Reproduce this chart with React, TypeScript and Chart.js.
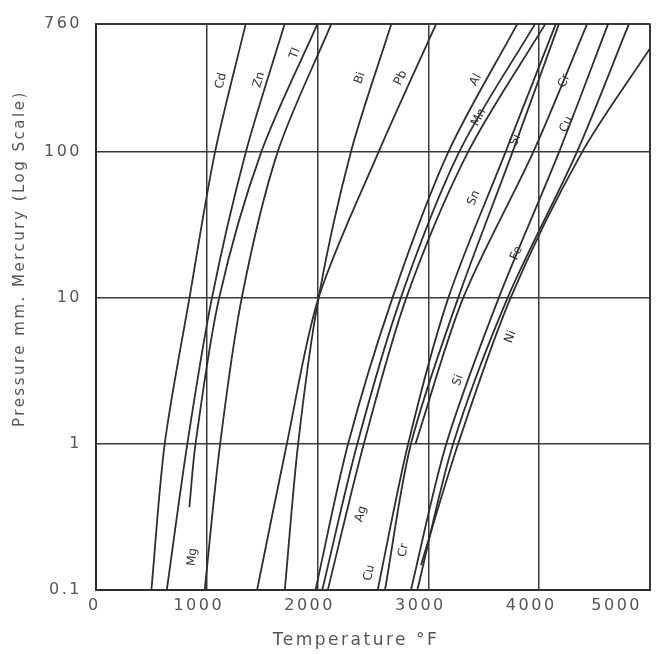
import React, { useEffect, useRef } from "react";
import { Chart, registerables } from "chart.js";

Chart.register(...registerables);

// ---- axis ticks ----
const xTicks = [0, 1000, 2000, 3000, 4000, 5000];
const yTicks = [0.1, 1, 10, 100, 760];

// ---- curve data: pressures (mm Hg) and temperatures (°F) ----
const stdP = [0.1, 1, 10, 100, 760];

const cdT = [500, 620, 843, 1074, 1352];
const znT = [639, 824, 1046, 1352, 1704];
const tlP = [0.37, 1, 10, 100, 760];
const tlT = [843, 898, 1111, 1491, 2000];
const mgT = [981, 1120, 1315, 1639, 2125];
const biT = [1704, 1824, 2008, 2300, 2667];
const pbT = [1454, 1722, 2008, 2550, 3071];
const agT = [1981, 2275, 2675, 3179, 3804];
const alT = [2042, 2358, 2750, 3277, 3964];
const mnT = [2092, 2417, 2800, 3357, 4057];
const cuT = [2542, 2817, 3179, 3696, 4151];
const crT = [2608, 2842, 3268, 3759, 4179];
const snP = [1, 10, 100, 760];
const snT = [2883, 3313, 3946, 4434];
const feT = [2842, 3161, 3634, 4179, 4623];
const niT = [2900, 3223, 3714, 4340, 4811];
const siP = [0.148, 1, 10, 100, 514];
const siT = [2933, 3268, 3741, 4387, 5000];

const curveNames = ["Cd", "Zn", "Tl", "Mg", "Bi", "Pb", "Ag", "Al", "Mn", "Cu", "Cr", "Sn", "Fe", "Ni", "Si"];
const curveP = [stdP, stdP, tlP, stdP, stdP, stdP, stdP, stdP, stdP, stdP, stdP, snP, stdP, stdP, siP];
const curveT = [cdT, znT, tlT, mgT, biT, pbT, agT, alT, mnT, cuT, crT, snT, feT, niT, siT];

// ---- curve labels (text, temperature °F, pressure mm Hg, rotation deg) ----
const labelText = ["Cd", "Zn", "Tl", "Bi", "Pb", "Al", "Mn", "Sn", "Si", "Cr", "Cu", "Fe", "Ni", "Si", "Ag", "Cu", "Cr", "Mg"];
const labelT = [1130, 1472, 1796, 2383, 2750, 3429, 3455, 3411, 3786, 4226, 4245, 3795, 3741, 3268, 2392, 2467, 2775, 870];
const labelP = [308, 313, 475, 322, 322, 313, 173, 48.5, 121, 308, 155, 20.3, 5.43, 2.74, 0.332, 0.131, 0.187, 0.168];
const labelAngle = [-76, -74, -68, -71, -64, -61, -61, -66, -68, -66, -66, -67, -69, -70, -73, -78, -78, -85];

const xTitle = "Temperature °F";
const yTitle = "Pressure mm. Mercury (Log Scale)";

const INK = "#2e2e2e";
const TEXT = "#555";

const annotatePlugin = {
  id: "annotate",
  beforeDraw(chart: any) {
    (chart.ctx as any).letterSpacing = "2.5px";
  },
  afterDatasetsDraw(chart: any) {
    const { ctx, scales, chartArea } = chart;
    const xs = scales.x;
    const ys = scales.y;
    ctx.save();
    (ctx as any).letterSpacing = "0px";
    ctx.fillStyle = "#333";
    ctx.font = '12px "DejaVu Sans"';
    ctx.textAlign = "center";
    ctx.textBaseline = "middle";
    for (let i = 0; i < labelText.length; i++) {
      const px = xs.getPixelForValue(labelT[i]);
      const py = ys.getPixelForValue(labelP[i]);
      ctx.save();
      ctx.translate(px, py);
      ctx.rotate((labelAngle[i] * Math.PI) / 180);
      ctx.fillText(labelText[i], 0, 0);
      ctx.restore();
    }
    ctx.restore();

    // axis titles
    ctx.save();
    (ctx as any).letterSpacing = "2.5px";
    ctx.fillStyle = TEXT;
    ctx.textAlign = "center";
    ctx.textBaseline = "middle";
    ctx.font = '17px "DejaVu Sans"';
    ctx.fillText(xTitle, (chartArea.left + chartArea.right) / 2 - 17, chart.height - 13);
    ctx.font = '15px "DejaVu Sans"';
    ctx.translate(20, chartArea.top + 235);
    ctx.rotate(-Math.PI / 2);
    ctx.fillText(yTitle, 0, 0);
    ctx.restore();
  },
};

export default function App() {
  const canvasRef = useRef<HTMLCanvasElement | null>(null);

  useEffect(() => {
    const canvas = canvasRef.current;
    if (!canvas) return;

    const datasets = curveNames.map((name, i) => ({
      label: name,
      data: curveP[i].map((p, j) => ({ x: curveT[i][j], y: p })),
      showLine: true,
      borderColor: INK,
      borderWidth: 1.8,
      pointRadius: 0,
      tension: 0.3,
      fill: false,
    }));

    const chart = new Chart(canvas, {
      type: "scatter",
      data: { datasets },
      plugins: [annotatePlugin],
      options: {
        animation: false,
        responsive: true,
        maintainAspectRatio: false,
        layout: { padding: { top: 20, right: 12, left: 0, bottom: 0 } },
        plugins: { legend: { display: false }, tooltip: { enabled: false }, title: { display: false } },
        scales: {
          x: {
            type: "linear",
            min: 0,
            max: 5000,
            afterBuildTicks: (s: any) => {
              s.ticks = xTicks.map((v) => ({ value: v }));
            },
            afterFit: (s: any) => {
              s.height = 64;
            },
            ticks: {
              align: "inner",
              labelOffset: -8,
              padding: 6,
              color: TEXT,
              font: { size: 16, family: "DejaVu Sans" },
              callback: (v: any) => String(v),
              maxRotation: 0,
              autoSkip: false,
            },
            grid: {
              color: "#3a3a3a",
              lineWidth: (c: any) => (c.tick && (c.tick.value === 5000 || c.tick.value === 0) ? 2 : 1.5),
              drawTicks: false,
            },
            border: { color: INK, width: 2 },
          },
          y: {
            type: "logarithmic",
            min: 0.1,
            max: 760,
            afterBuildTicks: (s: any) => {
              s.ticks = yTicks.map((v) => ({ value: v }));
            },
            afterFit: (s: any) => {
              s.width = 96;
            },
            ticks: {
              padding: 14,
              color: TEXT,
              font: { size: 16, family: "DejaVu Sans" },
              callback: (v: any) => String(v),
              autoSkip: false,
            },
            grid: {
              color: "#3a3a3a",
              lineWidth: (c: any) => (c.tick && (c.tick.value === 760 || c.tick.value === 0.1) ? 2 : 1.5),
              drawTicks: false,
            },
            border: { color: INK, width: 2 },
          },
        },
      } as any,
    });

    return () => {
      chart.destroy();
    };
  }, []);

  return (
    <div style={{ position: "fixed", left: 0, top: 0, width: 662, height: 654, background: "#fff" }}>
      <canvas ref={canvasRef} />
    </div>
  );
}
